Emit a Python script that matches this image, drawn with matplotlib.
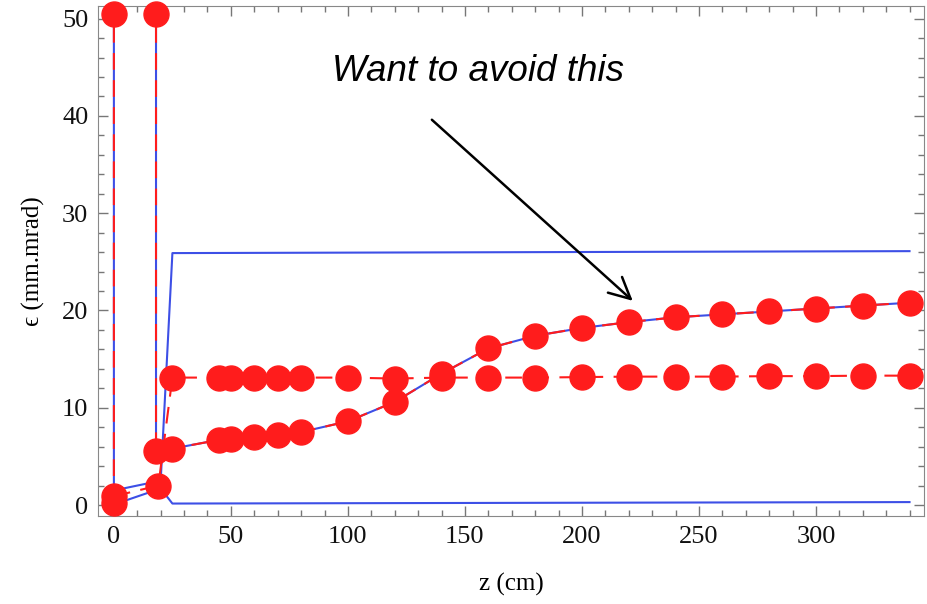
import numpy as np
import matplotlib
matplotlib.use("Agg")
import matplotlib.pyplot as plt
from matplotlib.ticker import MultipleLocator

# emittance growth along z
z_rise = [0, 0, 18, 18, 25, 45, 50, 60, 70, 80, 100, 120, 140, 160, 180, 200, 220, 240, 260, 280, 300, 320, 340]
eps_rise = [0.2, 500, 500, 5.6, 5.8, 6.7, 6.75, 7.0, 7.2, 7.5, 8.6, 10.6, 13.5, 16.1, 17.4, 18.2, 18.8, 19.3, 19.6, 19.9, 20.2, 20.5, 20.8]

z_flat = [0, 19, 25, 45, 50, 60, 70, 80, 100, 120, 140, 160, 180, 200, 220, 240, 260, 280, 300, 320, 340]
eps_flat = [0.9, 2.0, 13.1, 13.1, 13.1, 13.1, 13.1, 13.1, 13.1, 13.0, 13.1, 13.1, 13.1, 13.15, 13.2, 13.2, 13.2, 13.25, 13.25, 13.3, 13.3]

z_upper = [0, 20, 25, 340]
eps_upper = [1.5, 2.5, 25.9, 26.1]

z_lower = [0, 20, 25, 340]
eps_lower = [0.05, 1.7, 0.15, 0.3]

ceiling = 50.5  # points above the plot range are shown at the top edge

blue = "#3d4fe6"
red = "#ff1c1c"
serif = ["Liberation Serif", "DejaVu Serif"]

fig = plt.figure(figsize=(9.27, 6.04), dpi=100)
ax = fig.add_axes([0.1057, 0.1457, 0.8911, 0.8443])

ax.plot(z_upper, eps_upper, color=blue, lw=1.5, zorder=2)
ax.plot(z_lower, eps_lower, color=blue, lw=1.5, zorder=2)
ax.plot(z_rise, eps_rise, color=blue, lw=1.5, zorder=2)

ax.plot(z_rise, eps_rise, color=red, lw=1.5, dashes=(8, 5), zorder=3)
ax.plot(z_flat, eps_flat, color=red, lw=1.5, dashes=(8, 5), zorder=3)

ax.plot(z_rise, np.minimum(eps_rise, ceiling), "o", color=red, ms=18, mec=red, zorder=4, clip_on=False)
ax.plot(z_flat, eps_flat, "o", color=red, ms=18, mec=red, zorder=4)

ax.set_xlim(-6.8, 346.2)
ax.set_ylim(-1.13, 51.3)

ax.xaxis.set_major_locator(MultipleLocator(50))
ax.xaxis.set_minor_locator(MultipleLocator(10))
ax.yaxis.set_major_locator(MultipleLocator(10))
ax.yaxis.set_minor_locator(MultipleLocator(2))
ax.tick_params(which="both", direction="in", top=True, right=True, color="#777777")
ax.tick_params(which="major", length=7, width=1)
ax.tick_params(which="minor", length=4, width=1)
ax.tick_params(labelsize=19, pad=7)
for lab in ax.get_xticklabels() + ax.get_yticklabels():
    lab.set_family(serif)
    lab.set_color("#111111")
for s in ax.spines.values():
    s.set_color("#888888")

ax.set_xlabel("z (cm)", fontsize=18, family=serif, labelpad=18)
ax.set_ylabel("\u03f5 (mm.mrad)", fontsize=18, family=serif, labelpad=12)

ax.text(155.6, 44.6, "Want to avoid this", fontsize=26.5, style="italic",
        family="Liberation Sans", ha="center", va="center")
ax.annotate("", xy=(222.6, 20.8), xytext=(135, 39.8),
            arrowprops=dict(arrowstyle="->", lw=1.8, color="black", mutation_scale=38))

fig.savefig("out.png", dpi=100)
